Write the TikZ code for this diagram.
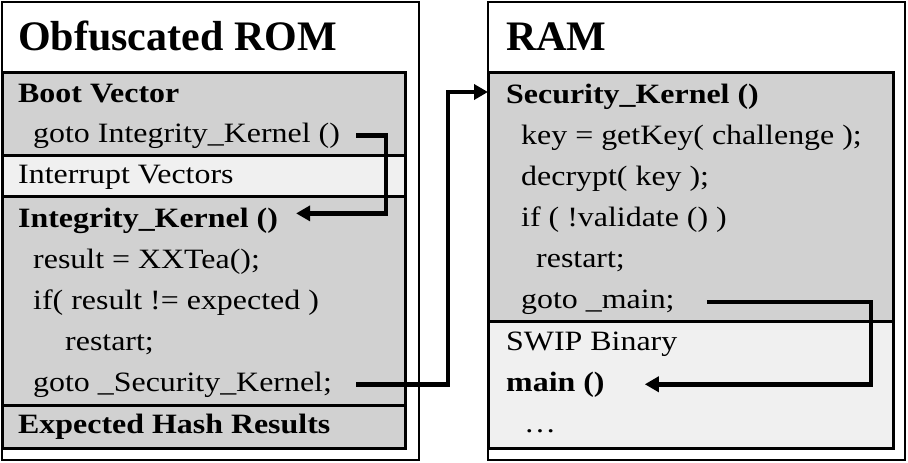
\documentclass[tikz,border=0pt]{standalone}
\usepackage{fontspec}
\setmainfont{Liberation Serif}[FakeStretch=1.14]
\newfontfamily\titlefont{Liberation Serif}
\usetikzlibrary{arrows.meta,positioning}
\definecolor{memgray}{gray}{0.82}
\definecolor{memlight}{gray}{0.94}

\begin{document}
\begin{tikzpicture}[x=1pt,y=-1pt,>={Triangle[length=14pt,width=15pt]}]

    % Styles
    \tikzset{
        memory/.style={draw=black, line width=2.5pt},
        block/.style={draw=black, line width=3pt, fill=#1, anchor=north west,
            inner sep=0pt, outer sep=0pt, minimum width=403pt},
        title/.style={anchor=base west, inner sep=0pt,
            font=\titlefont\bfseries\fontsize{42}{42}\selectfont},
        code/.style={anchor=base west, inner sep=0pt, font=\fontsize{28}{28}\selectfont},
        head/.style={code, font=\bfseries\fontsize{28}{28}\selectfont},
        jump/.style={->, line width=4.5pt}
    }

    \useasboundingbox (0,0) rectangle (908,463);

    % Memories
    \draw[memory] (2,2) rectangle (419,460);
    \draw[memory] (488,2) rectangle (905,460);

    % ROM blocks
    \node[block=memgray, minimum height=83pt] (bootsec) at (2,72) {};
    \node[block=memlight, minimum height=41pt] (irqsec) at (bootsec.south west) {};
    \node[block=memgray, minimum height=209pt] (iksec) at (irqsec.south west) {};
    \node[block=memgray, minimum height=43pt] (hashsec) at (iksec.south west) {};

    % RAM blocks
    \node[block=memgray, minimum width=405pt, minimum height=249pt] (seksec) at (488,72) {};
    \node[block=memlight, minimum width=405pt, minimum height=127pt] (swipsec) at (seksec.south west) {};

    % Titles
    \node[title] (romtitle) at (18,50) {Obfuscated ROM};
    \node[title] (ramtitle) at (506,50) {RAM};

    % ROM code
    \node[head] (boothead) at (18,102) {Boot Vector};
    \node[code] (bootgoto) at (33,142) {goto Integrity\_Kernel ()};
    \node[code] (irqtext) at (18,183) {Interrupt Vectors};
    \node[head] (ikhead) at (18,227) {Integrity\_Kernel ()};
    \node[code] (ikhash) at (33,268) {result = XXTea();};
    \node[code] (ikcheck) at (33,309) {if( result != expected )};
    \node[code] (ikfail) at (65,350) {restart;};
    \node[code] (sekgoto) at (33,391) {goto \_Security\_Kernel;};
    \node[head] (hashhead) at (18,433) {Expected Hash Results};

    % RAM code
    \node[head] (sekhead) at (506,103) {Security\_Kernel ()};
    \node[code] (sekkey) at (521,144) {key = getKey( challenge );};
    \node[code] (sekdec) at (521,185) {decrypt( key );};
    \node[code] (sekcheck) at (521,226) {if ( !validate () )};
    \node[code] (sekfail) at (536,267) {restart;};
    \node[code] (ramgoto) at (521,308) {goto \_main;};
    \node[code] (swiptext) at (506,350) {SWIP Binary};
    \node[head] (mainfn) at (506,391) {main ()};
    \node[code] (maindots) at (524,432) {…};

    % Jumps
    \coordinate (ikin) at ([shift={(18pt,7pt)}]ikhead.east);
    \coordinate (bendA) at (386,0);
    \draw[jump] ([xshift=16pt]bootgoto.east) -| (bendA |- ikin) -- (ikin);

    \coordinate (sekin) at ([yshift=-20pt]seksec.north west);
    \coordinate (bendB) at (448,0);
    \draw[jump] ([xshift=24pt]sekgoto.east) -| (bendB |- sekin) -- (sekin);

    \coordinate (mainin) at ([xshift=40pt]mainfn.east);
    \coordinate (bendC) at (871,0);
    \draw[jump] ([xshift=32pt]ramgoto.east) -| (bendC |- mainin) -- (mainin);

\end{tikzpicture}
\end{document}
